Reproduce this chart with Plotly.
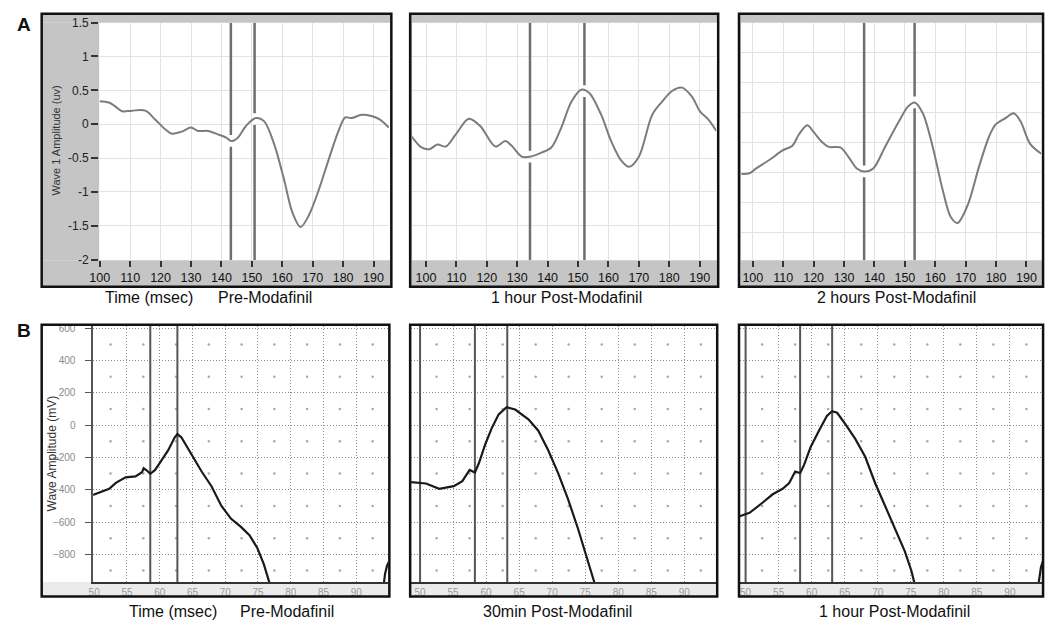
import numpy as np
import plotly.graph_objects as go

W, H = 1050, 630

# ---------------- DATA ----------------
# Panel A: Wave 1 amplitude (uV) vs time (msec)
a_xticks = [100, 110, 120, 130, 140, 150, 160, 170, 180, 190]
a_yticks = [-2, -1.5, -1, -0.5, 0, 0.5, 1, 1.5]
a_yticks_2h = [-1.5, -1, -0.5, 0, 0.5, 1, 1.5]

a_pre_t = [100, 103, 105.2, 107.4, 110.6, 115, 118.2, 121.5, 123.7, 126.9, 130, 132.3, 135.6, 138.8,
           141.6, 143.2, 145.4, 148, 151.3, 154, 157.3, 160.6, 163.3, 166, 168.7, 172, 175.2, 178.5,
           180.7, 182.8, 186.1, 189.3, 192, 195]
a_pre_v = [0.34, 0.32, 0.26, 0.19, 0.2, 0.2, 0.07, -0.075, -0.14, -0.11, -0.05, -0.1, -0.1, -0.15,
           -0.2, -0.25, -0.2, -0.03, 0.09, 0.045, -0.29, -0.82, -1.3, -1.52, -1.35, -0.97, -0.53, -0.1,
           0.1, 0.09, 0.14, 0.12, 0.07, -0.05]

a_1h_t = [95.1, 98.4, 101.1, 103.8, 106.5, 109.8, 114.1, 117.9, 122.8, 126.1, 128.2, 131.5, 134.2, 138,
          141.3, 144.5, 147.8, 151, 153.7, 157.6, 160.8, 164.1, 166.8, 170, 174.4, 177.6, 180.9, 184.2,
          187.4, 190.1, 192.8, 195.5]
a_1h_v = [-0.17, -0.34, -0.37, -0.30, -0.33, -0.15, 0.08, -0.03, -0.33, -0.25, -0.32, -0.48, -0.48, -0.42,
          -0.34, -0.05, 0.33, 0.51, 0.46, 0.14, -0.24, -0.53, -0.63, -0.48, 0.14, 0.33, 0.49, 0.54,
          0.41, 0.19, 0.07, -0.1]

a_2h_t = [96.2, 98.9, 101.1, 105.4, 109.8, 113, 115.2, 117.9, 120.1, 122.8, 125, 128.8, 131.5, 134.2,
          136.6, 139.6, 143.4, 147.8, 151, 153.2, 155.9, 159.2, 162.4, 165.1, 167.3, 170.6, 174.4, 177.6,
          179.8, 183.1, 185.8, 188, 191.2, 195]
a_2h_v = [-0.53, -0.52, -0.44, -0.30, -0.14, -0.06, 0.13, 0.28, 0.16, 0, -0.08, -0.09, -0.25, -0.44,
          -0.49, -0.44, -0.09, 0.32, 0.59, 0.66, 0.48, -0.09, -0.79, -1.25, -1.35, -1.06, -0.41, 0.08,
          0.29, 0.40, 0.48, 0.35, -0.03, -0.2]

a_pre_cursors = [143.1, 150.9]
a_1h_cursors = [134.2, 152.1]
a_2h_cursors = [136.6, 153.2]

# Panel B: wave amplitude (mV) vs time (msec)
b_xticks = [50, 55, 60, 65, 70, 75, 80, 85, 90]
b_yticks = [-800, -600, -400, -200, 0, 200, 400, 600]

b_pre_t = [49.8, 52.3, 53.3, 54.8, 56.3, 57.3, 57.55, 58.05, 58.56, 59.3, 60.3, 61.3, 62.3, 62.7, 63.3,
           64.8, 66.4, 67.9, 69.4, 70.9, 72.4, 73.7, 74.9, 75.9, 76.7, 77.3, None, 94.0, 94.4, 94.7, 95.0]
b_pre_v = [-432, -394, -357, -323, -317, -291, -267, -281, -301, -277, -216, -155, -75, -55, -75,
           -176, -287, -378, -499, -580, -630, -681, -761, -862, -963, -1050, None, -1050, -920, -870, -845]

b_30m_t = [48.6, 50.9, 52.9, 55.1, 56.4, 57.5, 58.3, 58.9, 59.9, 60.9, 61.9, 63.1, 64.4, 66.4, 67.9,
           69.4, 70.9, 72.4, 73.9, 75.1, 76.4, 76.8]
b_30m_v = [-353, -361, -394, -378, -347, -277, -293, -236, -115, -14, 67, 111, 97, 36, -34,
           -155, -297, -458, -640, -802, -967, -1030]

b_1h_t = [49.1, 50.6, 52.6, 54.1, 55.6, 56.6, 57.5, 58.25, 58.85, 59.85, 61.1, 62.3, 63.1, 63.85, 65.1,
          66.6, 68.1, 69.6, 71.1, 72.6, 74.1, 75.1, 75.5, 75.8, None, 94.2, 94.4, 94.7, 95.0]
b_1h_v = [-564, -543, -479, -428, -394, -358, -287, -297, -246, -135, -34, 57, 87, 77, 6,
          -85, -196, -358, -499, -640, -782, -903, -964, -1020, None, -1020, -964, -880, -842]

b_pre_cursors = [58.56, 62.7]
b_30m_cursors = [50, 58.3, 63.2]
b_1h_cursors = [50, 58.25, 63.1]

# ---------------- LAYOUT HELPERS ----------------
def fx(px):
    return px / W


def fy(py):
    return 1 - py / H


FONT = "Liberation Sans, Arial, sans-serif"
fig = go.Figure()
shapes = []
annotations = []
layout_axes = {}

panels = [
    dict(kind="A", t=a_pre_t, v=a_pre_v, cur=a_pre_cursors, plot=(90, 16, 383, 259), frame=(32, 7, 385, 286),
         xr=[99.8, 195.2], yr=[-2.01, 1.5], yt=a_yticks, labels=True),
    dict(kind="A", t=a_1h_t, v=a_1h_v, cur=a_1h_cursors, plot=(406, 16, 713, 259), frame=(404, 7, 715, 286),
         xr=[95.44, 195.44], yr=[-2.01, 1.5], yt=a_yticks, labels=False),
    dict(kind="A", t=a_2h_t, v=a_2h_v, cur=a_2h_cursors, plot=(738, 16, 1041, 259), frame=(736, 7, 1043, 286),
         xr=[96.1, 194.8], yr=[-1.97, 1.99], yt=a_yticks_2h, labels=False),
    dict(kind="B", t=b_pre_t, v=b_pre_v, cur=b_pre_cursors, plot=(84, 326, 382, 588), frame=(32, 325, 383, 603),
         xr=[49.85, 94.9], yr=[-971, 616], yt=b_yticks, labels=True),
    dict(kind="B", t=b_30m_t, v=b_30m_v, cur=b_30m_cursors, plot=(405, 326, 713, 588), frame=(404, 325, 714, 603),
         xr=[48.65, 94.83], yr=[-971, 616], yt=b_yticks, labels=False),
    dict(kind="B", t=b_1h_t, v=b_1h_v, cur=b_1h_cursors, plot=(737, 326, 1042, 588), frame=(736, 325, 1043, 603),
         xr=[49.15, 94.87], yr=[-971, 616], yt=b_yticks, labels=False),
]

for i, p in enumerate(panels):
    n = "" if i == 0 else str(i + 1)
    xa, ya = "x" + n, "y" + n
    x0, y0, x1, y1 = p["plot"]
    f0, g0, f1, g1 = p["frame"]

    if p["kind"] == "A":
        gray = "#c5c5c5"
        shapes.append(dict(type="rect", xref="paper", yref="paper", x0=fx(f0), x1=fx(f1), y0=fy(g0), y1=fy(y0),
                           fillcolor=gray, line=dict(width=0), layer="below"))
        shapes.append(dict(type="rect", xref="paper", yref="paper", x0=fx(f0), x1=fx(f1), y0=fy(g1), y1=fy(y1),
                           fillcolor=gray, line=dict(width=0), layer="below"))
        shapes.append(dict(type="rect", xref="paper", yref="paper", x0=fx(f0), x1=fx(x0), y0=fy(y1), y1=fy(y0),
                           fillcolor=gray, line=dict(width=0), layer="below"))
        layout_axes["xaxis" + n] = dict(
            domain=[fx(x0), fx(x1)], range=p["xr"], anchor=ya, tickvals=a_xticks,
            ticks="outside", ticklen=6, tickwidth=2, tickcolor="#333",
            tickfont=dict(family=FONT, size=12.5, color="#111"),
            showgrid=True, gridcolor="#e3e3e3", gridwidth=1, zeroline=False, showline=False)
        layout_axes["yaxis" + n] = dict(
            domain=[fy(y1), fy(y0)], range=p["yr"], anchor=xa, tickvals=p["yt"],
            ticktext=[("%g" % v) for v in p["yt"]],
            ticks="outside" if p["labels"] else "", ticklen=7, tickwidth=1.5, tickcolor="#333",
            showticklabels=p["labels"], tickfont=dict(family=FONT, size=12, color="#222"),
            showgrid=True, gridcolor="#e3e3e3", gridwidth=1, zeroline=False, showline=False)
        t_num = np.array(p["t"], dtype=float)
        v_num = np.array(p["v"], dtype=float)
        ppu = (y1 - y0) / (p["yr"][1] - p["yr"][0])
        gap = 6 / ppu
        for c in p["cur"]:
            yc = float(np.interp(c, t_num, v_num))
            fig.add_trace(go.Scatter(x=[c, c, None, c, c],
                                     y=[p["yr"][1], yc + gap, None, yc - gap, p["yr"][0]],
                                     xaxis=xa, yaxis=ya, mode="lines",
                                     line=dict(color="#6e6e6e", width=2.5), hoverinfo="skip"))
        fig.add_trace(go.Scatter(x=p["t"], y=p["v"], xaxis=xa, yaxis=ya, mode="lines",
                                 line=dict(color="#7c7c7c", width=2, shape="spline", smoothing=0.9),
                                 hoverinfo="skip"))
    else:
        shapes.append(dict(type="rect", xref="paper", yref="paper", x0=fx(f0), x1=fx(f1), y0=fy(g1), y1=fy(y1),
                           fillcolor="#ebebeb", line=dict(width=0), layer="below"))
        layout_axes["xaxis" + n] = dict(
            domain=[fx(x0), fx(x1)], range=p["xr"], anchor=ya, tickvals=b_xticks,
            ticks="", tickfont=dict(family=FONT, size=10, color="#9a9a9a"),
            showgrid=True, gridcolor="#8e8e8e", gridwidth=1, griddash="1px,2px",
            zeroline=False, showline=True, linecolor="#333", linewidth=1.5)
        layout_axes["yaxis" + n] = dict(
            domain=[fy(y1), fy(y0)], range=p["yr"], anchor=xa, tickvals=p["yt"],
            ticks="outside" if p["labels"] else "", ticklen=6, tickwidth=1.2, tickcolor="#555",
            showticklabels=p["labels"], tickfont=dict(family=FONT, size=10, color="#8a8a8a"),
            ticklabelstandoff=8,
            showgrid=True, gridcolor="#8e8e8e", gridwidth=1, griddash="1px,2px",
            zeroline=False, showline=p["labels"], linecolor="#555", linewidth=1.5)
        cx = [v + 2.5 for v in b_xticks] + [b_xticks[0] - 2.5]
        cy = [v + 100 for v in b_yticks[:-1]] + [b_yticks[0] - 100]
        gx, gy = np.meshgrid(cx, cy)
        fig.add_trace(go.Scatter(x=gx.ravel(), y=gy.ravel(), xaxis=xa, yaxis=ya, mode="markers",
                                 marker=dict(size=2.5, color="#a8a8a8"), hoverinfo="skip", cliponaxis=True))
        for c in p["cur"]:
            fig.add_trace(go.Scatter(x=[c, c], y=[p["yr"][0], p["yr"][1]], xaxis=xa, yaxis=ya, mode="lines",
                                     line=dict(color="#555", width=2), hoverinfo="skip"))
        fig.add_trace(go.Scatter(x=p["t"], y=p["v"], xaxis=xa, yaxis=ya, mode="lines", connectgaps=False,
                                 line=dict(color="#1a1a1a", width=2.2), hoverinfo="skip"))

    shapes.append(dict(type="rect", xref="paper", yref="paper", x0=fx(f0), x1=fx(f1), y0=fy(g1), y1=fy(g0),
                       line=dict(color="#111", width=2.5), fillcolor="rgba(0,0,0,0)", layer="above"))


def ann(text, x, y, size=16, angle=0, color="#111", bold=False):
    annotations.append(dict(text=("<b>%s</b>" % text) if bold else text, x=fx(x), y=fy(y),
                            xref="paper", yref="paper", showarrow=False, xanchor="center", yanchor="middle",
                            textangle=angle, font=dict(family=FONT, size=size, color=color)))


ann("A", 14, 18, size=19, bold=True)
ann("B", 14, 331, size=19, bold=True)
ann("Wave 1 Amplitude (uv)", 46, 137, size=11, angle=-90, color="#333")
ann("Wave Amplitude (mV)", 42, 457, size=12, angle=-90, color="#333")
ann("Time (msec)", 140, 297)
ann("Pre-Modafinil", 257, 297)
ann("1 hour Post-Modafinil", 562, 297)
ann("2 hours Post-Modafinil", 895, 297)
ann("Time (msec)", 165, 618)
ann("Pre-Modafinil", 280, 618)
ann("30min Post-Modafinil", 553, 618)
ann("1 hour Post-Modafinil", 893, 618)

fig.update_layout(width=W, height=H, margin=dict(l=0, r=0, t=0, b=0),
                  paper_bgcolor="white", plot_bgcolor="white", showlegend=False,
                  shapes=shapes, annotations=annotations, **layout_axes)

fig.write_html("out.html", config={"displayModeBar": False},
               post_script="document.body.style.margin='0';document.body.style.overflow='hidden';")
